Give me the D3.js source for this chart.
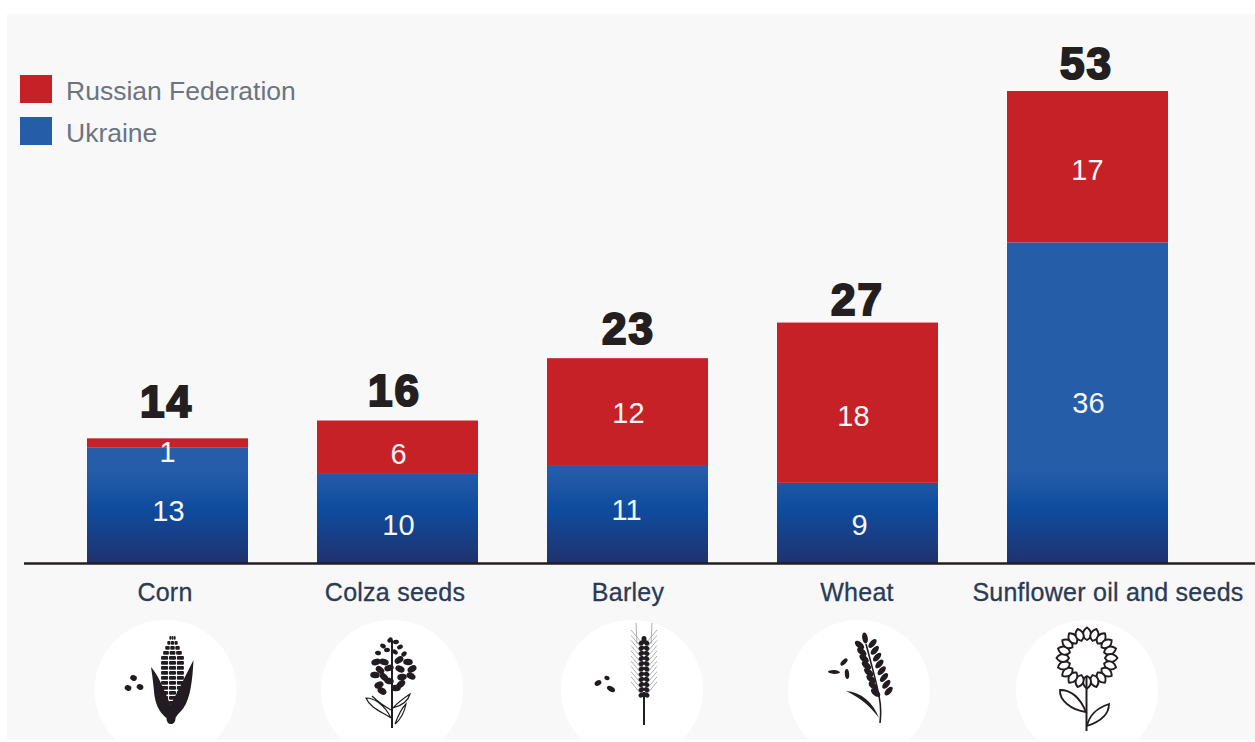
<!DOCTYPE html>
<html><head><meta charset="utf-8">
<script src="https://cdnjs.cloudflare.com/ajax/libs/d3/7.8.5/d3.min.js"></script>
<style>html,body{margin:0;padding:0;background:#fff;overflow:hidden}svg{display:block}text{font-family:"Liberation Sans",Arial,sans-serif}</style>
</head><body><svg id="c" width="1255" height="742"></svg>
<script>
const categories=["Corn","Colza seeds","Barley","Wheat","Sunflower oil and seeds"];
const ukraine=[13,10,11,9,36];
const russia=[1,6,12,18,17];
const totals=[14,16,23,27,53];
const seriesNames=["Russian Federation","Ukraine"];
const seriesColors=["#c62127","#265da9"];
const iconCentres=[165.5,392,632,859,1087];
const catLabelX=[165,395,628,857,1108];
const russiaLabelDy=[9,7,1,13,3];
const russiaLabelDx=[0,1,1,-4,0];
const ukraineLabelDy=[6,7,-4,2,0];
const ukraineLabelDx=[1,1,-1,2,1];
const totalGap=[21,15,14,8,12];
const totalDx=[-1,-3,1,0,-1];

const svg=d3.select("#c");
const defs=svg.append("defs");
defs.append("filter").attr("id","soft").append("feGaussianBlur").attr("stdDeviation",0.45);
const x=d3.scaleBand().domain(categories).range([87,1168]).paddingInner(0.3);
const y=d3.scaleLinear().domain([0,53]).range([563,91]);
const g=defs.append("linearGradient").attr("id","blue").attr("gradientUnits","userSpaceOnUse")
 .attr("x1",0).attr("x2",0).attr("y1",91).attr("y2",563);
[[0,"#265da9"],[0.8,"#265da9"],[0.885,"#0f4c9e"],[1,"#20326e"]].forEach(s=>g.append("stop").attr("offset",s[0]).attr("stop-color",s[1]));

svg.append("rect").attr("x",7).attr("y",14).attr("width",1248).attr("height",726).attr("fill","#f8f8f9");

const rows=categories.map((c,i)=>({c,i,u:ukraine[i],r:russia[i],t:totals[i]}));
const cols=svg.append("g").selectAll("g").data(rows).join("g");
cols.append("rect").attr("x",d=>x(d.c)).attr("width",x.bandwidth())
 .attr("y",d=>y(d.u)).attr("height",d=>y(0)-y(d.u)).attr("fill","url(#blue)");
cols.append("rect").attr("x",d=>x(d.c)).attr("width",x.bandwidth())
 .attr("y",d=>y(d.u+d.r)).attr("height",d=>y(d.u)-y(d.u+d.r)).attr("fill",seriesColors[0]);

svg.append("line").attr("x1",24).attr("x2",1255).attr("y1",563.5).attr("y2",563.5).attr("stroke","#231f20").attr("stroke-width",2.4);

const mid=d=>x(d.c)+x.bandwidth()/2;
const val=sel=>sel.attr("text-anchor","middle").attr("dominant-baseline","central").attr("fill","#f6f6f6").attr("font-size",29);
cols.append("text").call(val).attr("x",d=>mid(d)+russiaLabelDx[d.i]).attr("y",d=>(y(d.u)+y(d.u+d.r))/2+russiaLabelDy[d.i]).text(d=>d.r);
cols.append("text").call(val).attr("x",d=>mid(d)+ukraineLabelDx[d.i]).attr("y",d=>(y(0)+y(d.u))/2+ukraineLabelDy[d.i]).text(d=>d.u);
cols.append("text").attr("x",d=>mid(d)+totalDx[d.i]).attr("y",d=>y(d.t)-totalGap[d.i]).attr("text-anchor","middle")
 .attr("font-size",44).attr("font-weight",700).attr("letter-spacing",2).attr("fill","#231f20").attr("stroke","#231f20").attr("stroke-width",2.2)
 .text(d=>d.t);
cols.append("text").attr("x",d=>catLabelX[d.i]).attr("y",601).attr("text-anchor","middle")
 .attr("font-size",25).attr("letter-spacing",0.25).attr("fill","#2b3a55").attr("stroke","#2b3a55").attr("stroke-width",0.3).text(d=>d.c);

const leg=svg.append("g").selectAll("g").data(seriesNames).join("g").attr("transform",(d,i)=>`translate(20,${75+i*42})`);
leg.append("rect").attr("width",32).attr("height",28).attr("fill",(d,i)=>seriesColors[i]);
leg.append("text").attr("x",46).attr("y",25).attr("font-size",26.5).attr("fill","#6c7482").text(d=>d);

const dark="#231f20";
const icons=svg.append("g").selectAll("g").data(iconCentres).join("g").attr("transform",d=>`translate(${d},690)`);
icons.append("ellipse").attr("rx",71).attr("ry",70).attr("fill","#fff");
const glyphs=icons.append("g").attr("filter","url(#soft)");
const blob=(s,cx,cy,rx,ry,rot)=>s.append("ellipse").attr("rx",rx).attr("ry",ry).attr("transform",`translate(${cx},${cy}) rotate(${rot})`).attr("fill",dark);
const ic=i=>d3.select(glyphs.nodes()[i]);

// corn
{const s=ic(0);
 d3.range(14).forEach(r=>{const yy=-54+r*5;const hw=Math.min(11,3+r*2);
  d3.range(-1,2).forEach(k=>s.append("rect").attr("x",7+k*hw*0.72-hw*0.32).attr("y",yy).attr("width",hw*0.64).attr("height",3.8).attr("rx",1).attr("fill",dark));});
 s.append("path").attr("fill",dark).attr("d","M-14.5,-23 C-8,-16 -2,-2 5,15 C12,2 20,-14 28,-30 C27,-10 25,8 18,18 C15,22 12,24 10,28 C10,32 8,34 5.5,34 C3,34 1,32 1,28 C-4,24 -9,18 -11,6 C-12,-4 -13,-14 -14.5,-23Z");
 [[-32,-12],[-37.5,-2],[-25.5,-3]].forEach(p=>blob(s,p[0],p[1],3.4,2.8,20));
}
// colza
{const s=ic(1);
 s.append("line").attr("y1",-50).attr("y2",38).attr("stroke",dark).attr("stroke-width",2);
 [[-2,-50],[4,-48],[-9,-44],[8,-43],[-14,-37],[12,-36],[-5,-40],[3,-38],[-16,-28],[-8,-28],[7,-30],[16,-28],[-12,-20],[-3,-22],[8,-21],[20,-21],[-17,-15],[-8,-13],[10,-13],[19,-14],[-13,-5],[-3,-9],[9,-6],[4,-2],[-10,1]]
  .forEach((p,i)=>blob(s,p[0],p[1],i<8?3:4.8,i<8?2.2:3.2,i*37%90-45));
 ["M-1,28 C-10,22 -22,18 -26,8 C-18,8 -8,14 -1,28 M-1,20 C-8,16 -14,12 -20,6","M1,18 C6,12 12,8 18,4 C16,12 8,16 1,18","M3,34 C6,26 8,20 14,14 C12,24 8,30 3,34"]
  .forEach(d=>s.append("path").attr("d",d).attr("fill","none").attr("stroke",dark).attr("stroke-width",1.2));
}
// barley
{const s=ic(2);const c=12;
 s.append("line").attr("x1",c).attr("x2",c).attr("y1",2).attr("y2",35).attr("stroke",dark).attr("stroke-width",2);
 d3.range(11).forEach(r=>{const yy=-47+r*5.2;
  [-1,1].forEach(k=>{
   s.append("line").attr("x1",c+k*2).attr("y1",yy).attr("x2",c+k*13).attr("y2",yy-13).attr("stroke","#8d8d8d").attr("stroke-width",0.7);
   blob(s,c+k*2.6,yy,3,2.4,k*35);});});
 blob(s,c,-51,2.5,3,0);
 [-1,1].forEach(k=>s.append("line").attr("x1",c+k*7).attr("y1",-46).attr("x2",c+k*8).attr("y2",-67).attr("stroke","#9a9a9a").attr("stroke-width",0.8));
 blob(s,-34,-7,3.6,2.6,-30);blob(s,-25,-12,2.6,2.2,20);blob(s,-21,-1,4.4,2.5,30);
}
// wheat
{const s=ic(3);
 const stem=d3.line().curve(d3.curveBasis);
 s.append("path").attr("d",stem([[7,-46],[14,-20],[21,8],[22,22],[21,33]])).attr("fill","none").attr("stroke",dark).attr("stroke-width",1.6);
 s.append("path").attr("fill",dark).attr("d","M-13,1 C2,2 14,12 20,28 C12,17 2,8 -13,1Z");
 blob(s,6,-52,2.8,5.5,-10);
 d3.range(8).forEach(r=>{const cy=-44+r*6.8,cx=7+r*2.3;
  blob(s,cx-6.5,cy-1,3,5.6,-50);blob(s,cx+6.5,cy-2.5,2.8,5.4,42);});
 blob(s,-25,-18,6,1.9,3);blob(s,-15,-28,4.5,2.2,-45);blob(s,-12,-16,5,2.2,85);
}
// sunflower
{const s=ic(4);const fc=-32;
 d3.range(20).forEach(i=>{
  s.append("path").attr("d","M0,-18 C-5.5,-21 -5,-27 0,-30.5 C5,-27 5.5,-21 0,-18Z")
   .attr("transform",`translate(0,${fc}) rotate(${i*18})`).attr("fill","#fff").attr("stroke",dark).attr("stroke-width",1.9);});
 s.append("path").attr("d","M-0.5,-13 L-0.5,41").attr("stroke",dark).attr("stroke-width",2);
 s.append("path").attr("d","M-1,22 C-6,10 -14,0 -27,0 C-28,10 -16,20 -1,22Z M0,36 C2,26 10,18 22,14 C22,26 12,32 0,36Z")
   .attr("fill","none").attr("stroke",dark).attr("stroke-width",1.8);
}
</script></body></html>
